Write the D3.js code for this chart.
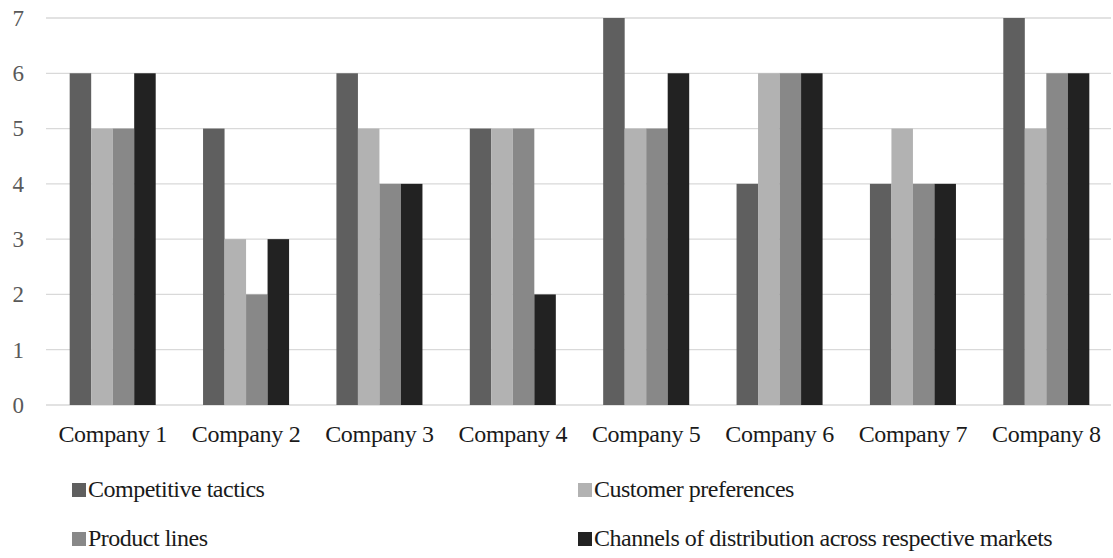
<!DOCTYPE html>
<html><head><meta charset="utf-8">
<script src="https://cdn.jsdelivr.net/npm/d3@7"></script>
<style>body{margin:0;background:#fff}svg{display:block}</style>
</head><body><svg id="c" width="1113" height="558"></svg>
<script>
const categories = ["Company 1","Company 2","Company 3","Company 4","Company 5","Company 6","Company 7","Company 8"];
const seriesNames = ["Competitive tactics","Customer preferences","Product lines","Channels of distribution across respective markets"];
const competitiveTactics = [6,5,6,5,7,4,4,7];
const customerPreferences = [5,3,5,5,5,6,5,5];
const productLines = [5,2,4,5,5,6,4,6];
const channelsOfDistribution = [6,3,4,2,6,6,4,6];
const yTicks = [0,1,2,3,4,5,6,7];
const colors = ["#5f5f5f","#b2b2b2","#888888","#222222"];

const FONT = '"Liberation Serif", Tinos, "Times New Roman", serif';
const series = [competitiveTactics, customerPreferences, productLines, channelsOfDistribution];
const svg = d3.select("#c");
const mLeft = 46, mRight = 1113, mTop = 18, mBottom = 405;
const y = d3.scaleLinear().domain([0,7]).range([mBottom, mTop]);
const x0 = d3.scaleBand().domain(categories).range([mLeft, mRight]).padding(0);
const step = x0.bandwidth();
const x1 = d3.scaleBand().domain(d3.range(series.length)).range([step*0.1775, step*0.8225]).padding(0);

svg.append("g").selectAll("line").data(yTicks).join("line")
  .attr("x1", mLeft).attr("x2", 1111).attr("y1", d=>y(d)).attr("y2", d=>y(d))
  .attr("stroke", "#d9d9d9").attr("stroke-width", 1.3);

const yAxis = svg.append("g").attr("transform", `translate(${mLeft},0)`)
  .call(d3.axisLeft(y).tickValues(yTicks).tickSize(0).tickPadding(22).tickFormat(d3.format("d")));
yAxis.select(".domain").remove();
yAxis.selectAll("text").style("font-size","23px").style("font-family",FONT).attr("fill","#595959");

const groups = svg.append("g").selectAll("g").data(categories).join("g")
  .attr("transform", d=>`translate(${x0(d)},0)`);
groups.selectAll("rect").data((d,i)=>series.map((s,k)=>({k, v:s[i]}))).join("rect")
  .attr("x", d=>x1(d.k)).attr("width", x1.bandwidth())
  .attr("y", d=>y(d.v)).attr("height", d=>mBottom - y(d.v))
  .attr("fill", d=>colors[d.k]);

const xAxis = svg.append("g").attr("transform", `translate(0,${mBottom})`)
  .call(d3.axisBottom(x0).tickSize(0).tickPadding(20));
xAxis.select(".domain").remove();
xAxis.selectAll("text").style("font-size","24px").style("font-family",FONT).style("letter-spacing","-0.3px").attr("fill","#1a1a1a");

const legendPos = [[72,497],[578,497],[72,546],[578,546]];
const lg = svg.append("g").selectAll("g").data(seriesNames).join("g")
  .attr("transform", (d,i)=>`translate(${legendPos[i][0]},${legendPos[i][1]})`);
lg.append("rect").attr("x",0).attr("y",-14).attr("width",14).attr("height",14).attr("fill",(d,i)=>colors[i]);
lg.append("text").attr("x",16).attr("y",0).style("font-family",FONT).style("font-size","24px")
  .style("letter-spacing","-0.5px").attr("fill","#1a1a1a").text(d=>d);
</script></body></html>
